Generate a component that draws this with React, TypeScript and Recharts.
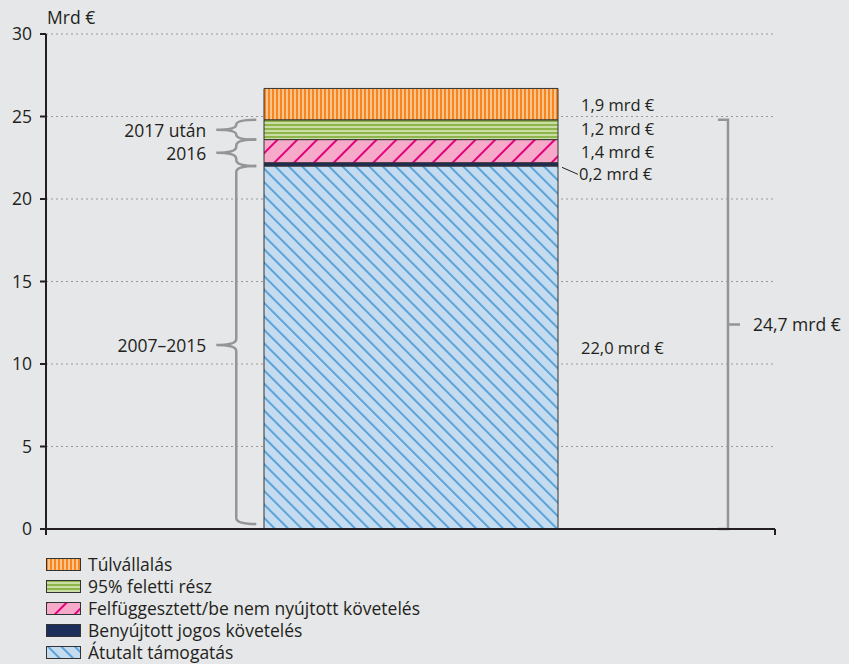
import {
  Bar,
  BarChart,
  CartesianGrid,
  LabelList,
  ReferenceArea,
  ReferenceLine,
  XAxis,
  YAxis,
} from "recharts";

// one stacked column, values in billion euro
const category = ["Összesen"];
const atutalt = [22.0];
const benyujtott = [0.2];
const felfuggesztett = [1.4];
const feletti95 = [1.2];
const tulvallalas = [1.9];

const yTicks = [0, 5, 10, 15, 20, 25, 30];

// brace annotations on the left (in billion euro)
const periods = [
  { label: "2017 után", from: 23.6, to: 24.8 },
  { label: "2016", from: 22.0, to: 23.6 },
  { label: "2007–2015", from: 0.3, to: 22.0 },
];
const totalLabel = "24,7 mrd €";
const totalFrom = 0;
const totalTo = 24.8;

const FONT = "'Open Sans', sans-serif";
const FS = 17.5;
const VFS = 16.5;
const TEXT = "#231f20";
const BRACE = "#939598";

const data = category.map((name, i) => ({
  name,
  atutalt: atutalt[i],
  benyujtott: benyujtott[i],
  felfuggesztett: felfuggesztett[i],
  feletti95: feletti95[i],
  tulvallalas: tulvallalas[i],
}));

const series = [
  { key: "tulvallalas", name: "Túlvállalás", fill: "url(#patOrange)" },
  { key: "feletti95", name: "95% feletti rész", fill: "url(#patGreen)" },
  { key: "felfuggesztett", name: "Felfüggesztett/be nem nyújtott követelés", fill: "url(#patPink)" },
  { key: "benyujtott", name: "Benyújtott jogos követelés", fill: "#1d2d59" },
  { key: "atutalt", name: "Átutalt támogatás", fill: "url(#patBlue)" },
];

const fmt = (v: number) => v.toFixed(1).replace(".", ",") + " mrd €";

const ValueLabel = (props: any) => {
  const { x, y, width, height, value, leader, dy = 0 } = props;
  const cx = x + width;
  const cy = y + height / 2;
  if (leader) {
    return (
      <g>
        <line x1={cx + 4} y1={cy + 3} x2={cx + 20} y2={cy + 10} stroke={TEXT} strokeWidth={1} />
        <text x={cx + 21} y={cy + 9} dominantBaseline="central" fontFamily={FONT} fontSize={VFS} fill={TEXT}>
          {fmt(value)}
        </text>
      </g>
    );
  }
  return (
    <text x={cx + 23} y={cy + dy} dominantBaseline="central" fontFamily={FONT} fontSize={VFS} fill={TEXT}>
      {fmt(value)}
    </text>
  );
};

// brace sits at a fixed share of the plot width, left of the column
const makeBrace = (label: string) => (props: any) => {
  const { x: px, y, width, height } = props;
  const x = px + width * 0.261;
  const yT = y;
  const yB = y + height;
  const yM = (yT + yB) / 2;
  const r = Math.min(6, (yB - yT) / 4);
  const d = `M ${x + 20} ${yT} Q ${x} ${yT} ${x} ${yT + r} L ${x} ${yM - r} Q ${x} ${yM} ${x - 20} ${yM} Q ${x} ${yM} ${x} ${yM + r} L ${x} ${yB - r} Q ${x} ${yB} ${x + 20} ${yB}`;
  return (
    <g>
      <path d={d} fill="none" stroke={BRACE} strokeWidth={2.5} />
      <text x={x - 30} y={yM} textAnchor="end" dominantBaseline="central" fontFamily={FONT} fontSize={FS} fill={TEXT}>
        {label}
      </text>
    </g>
  );
};

const TotalBracket = (props: any) => {
  const { x: px, y, width, height } = props;
  const x = px + width * 0.9355;
  const yT = y;
  const yB = y + height;
  const yM = (yT + yB) / 2;
  return (
    <g>
      <path
        d={`M ${x - 10} ${yT} L ${x} ${yT} L ${x} ${yB} L ${x - 10} ${yB} M ${x} ${yM} L ${x + 12} ${yM}`}
        fill="none"
        stroke={BRACE}
        strokeWidth={2.5}
      />
      <text x={x + 25} y={yM} dominantBaseline="central" fontFamily={FONT} fontSize={FS} fill={TEXT}>
        {totalLabel}
      </text>
    </g>
  );
};

// x axis line with a tick at both ends of the category
const BaseLine = (props: any) => {
  const { x1, x2, y1 } = props;
  return (
    <path
      d={`M ${x1 - 6} ${y1} L ${x2} ${y1} M ${x1} ${y1} L ${x1} ${y1 + 6} M ${x2} ${y1} L ${x2} ${y1 + 6}`}
      fill="none"
      stroke={TEXT}
      strokeWidth={2}
    />
  );
};

const Patterns = () => (
  <defs>
    <pattern id="patOrange" width="4" height="4" patternUnits="userSpaceOnUse">
      <rect width="4" height="4" fill="#fbc48c" />
      <rect width="2" height="4" fill="#f7861f" />
    </pattern>
    <pattern id="patGreen" width="4" height="4" patternUnits="userSpaceOnUse">
      <rect width="4" height="4" fill="#c9dda5" />
      <rect width="4" height="2" fill="#8db54b" />
    </pattern>
    <pattern id="patPink" width="14" height="14" patternUnits="userSpaceOnUse" patternTransform="rotate(45)">
      <rect width="14" height="14" fill="#f6a9c8" />
      <line x1="1" y1="0" x2="1" y2="14" stroke="#e4007d" strokeWidth="2" />
    </pattern>
    <pattern id="patBlue" width="9.5" height="9.5" patternUnits="userSpaceOnUse" patternTransform="rotate(-45)">
      <rect width="9.5" height="9.5" fill="#c5dcf0" />
      <line x1="1" y1="0" x2="1" y2="9.5" stroke="#5aa2d7" strokeWidth="2" />
    </pattern>
  </defs>
);

const UnitLabel = (props: any) => {
  const { viewBox } = props;
  return (
    <text x={viewBox.x + viewBox.width + 1} y={viewBox.y - 17} dominantBaseline="central" fontFamily={FONT} fontSize={FS} fill={TEXT}>
      Mrd €
    </text>
  );
};

export default function App() {
  return (
    <div style={{ position: "fixed", left: 0, top: 0, width: 849, height: 664, background: "#e6e7e8" }}>
      <BarChart width={849} height={540} data={data} margin={{ top: 34, right: 74, left: 0, bottom: 11 }}>
        <Patterns />
        <CartesianGrid horizontal vertical={false} stroke="#9a9a9a" strokeDasharray="2 3" />
        <XAxis dataKey="name" hide />
        <YAxis
          width={46}
          domain={[0, 30]}
          ticks={yTicks}
          interval={0}
          stroke={TEXT}
          strokeWidth={2}
          tickSize={6}
          tickMargin={8}
          axisLine
          tickLine
          tick={{ fill: TEXT, fontSize: FS, fontFamily: FONT }}
          label={<UnitLabel />}
        />
        {[...series].reverse().map((s) => (
          <Bar
            key={s.key}
            dataKey={s.key}
            name={s.name}
            stackId="a"
            fill={s.fill}
            stroke="#333333"
            strokeWidth={1}
            barSize={294}
            isAnimationActive={false}
          >
            <LabelList
              dataKey={s.key}
              content={<ValueLabel leader={s.key === "benyujtott"} dy={s.key === "feletti95" ? -1 : 0} />}
            />
          </Bar>
        ))}
        {periods.map((p) => (
          <ReferenceArea key={p.label} y1={p.from} y2={p.to} shape={makeBrace(p.label)} />
        ))}
        <ReferenceArea y1={totalFrom} y2={totalTo} shape={TotalBracket} />
        <ReferenceLine y={0} shape={BaseLine} />
      </BarChart>
      <div style={{ position: "absolute", left: 46, top: 553, fontFamily: FONT, fontSize: FS, color: TEXT, lineHeight: "22px" }}>
        {series.map((s) => (
          <div key={s.key} style={{ display: "flex", alignItems: "center", height: 22 }}>
            <svg width={35} height={13} style={{ marginRight: 7 }}>
              <rect x={0.5} y={0.5} width={34} height={12} fill={s.fill} stroke="#333333" strokeWidth={1} />
            </svg>
            <span>{s.name}</span>
          </div>
        ))}
      </div>
    </div>
  );
}
